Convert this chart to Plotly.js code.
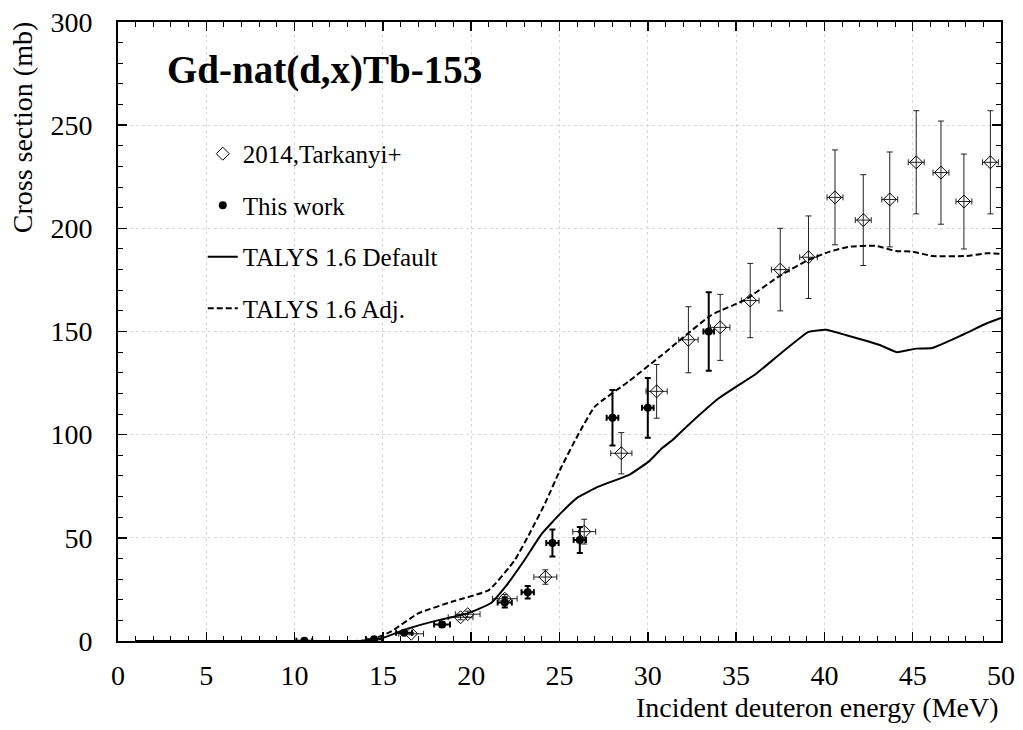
<!DOCTYPE html>
<html><head><meta charset="utf-8">
<script src="https://cdn.plot.ly/plotly-3.0.1.min.js"></script>
<style>body{margin:0;background:#fff}#chart{width:1023px;height:730px}</style>
</head><body><div id="chart"></div>
<script>
// Tarkanyi 2014 data
const tarkE   = [16.6, 19.4, 19.8, 21.9, 24.2, 26.4, 28.5, 30.5, 32.3, 34.1, 35.8, 37.5, 39.1, 40.6, 42.2, 43.7, 45.2, 46.6, 47.9, 49.4];
const tarkXS  = [3.5, 11.5, 13, 20.5, 31, 53, 91, 121, 146, 152, 165, 180, 186, 215, 204, 214, 232, 227, 213, 232];
const tarkDXS = [0.5, 1.2, 1.5, 2, 3.5, 6, 10, 13, 16, 16, 18, 20, 20, 23, 22, 23, 25, 25, 23, 25];
const tarkDE  = [0.7, 0.7, 0.7, 0.7, 0.65, 0.65, 0.6, 0.6, 0.55, 0.55, 0.5, 0.5, 0.5, 0.45, 0.45, 0.45, 0.45, 0.45, 0.45, 0.45];
// This work
const workE   = [10.55, 14.5, 16.2, 18.35, 21.9, 23.2, 24.6, 26.15, 28.0, 30.0, 33.45];
const workXS  = [0.1, 0.8, 4, 8, 18.7, 23.6, 47.5, 49, 108.2, 113, 150];
const workDXS = [0.1, 0.2, 0.6, 1.2, 2.5, 3, 6.5, 6.3, 13.5, 14.5, 19];
const workDE  = [0.45, 0.45, 0.45, 0.45, 0.4, 0.35, 0.35, 0.35, 0.33, 0.33, 0.3];
// TALYS 1.6 Default
const defE  = [1, 5, 10, 13, 14, 15, 16.4, 18.1, 19.8, 21.1, 22, 23, 24, 25.1, 26.05, 27.2, 29.0, 30.1, 30.8, 31.4, 32.3, 34.0, 35.6, 36.1, 39.1, 40.1, 41.2, 42.2, 43.1, 44.1, 45.2, 46.1, 47.8, 49.2, 50];
const defXS = [0, 0, 0, 0, 0.1, 1.5, 6, 10, 13.4, 18.3, 27, 39, 52, 62.2, 69.7, 74.8, 80.8, 87.3, 93.4, 97.4, 104.7, 117.5, 126.5, 129.3, 149.8, 150.8, 148.3, 145.9, 143.6, 140, 141.7, 142, 148.3, 154, 156.6];
// TALYS 1.6 Adj.
const adjE  = [1, 5, 10, 13, 14, 14.6, 15.45, 17.0, 18.9, 21.0, 22.45, 23.3, 24.2, 25.1, 26.1, 27.0, 28.9, 30.8, 33.6, 35.5, 37.4, 39.1, 40.3, 41.4, 42.9, 44.05, 45.0, 46.1, 48.0, 49.2, 50];
const adjXS = [0, 0, 0, 0, 0.2, 1.5, 4.5, 13.4, 19, 24.7, 39, 52, 67, 84.2, 100.7, 113.6, 125.7, 138.6, 158, 165.3, 176.6, 184.7, 188.7, 191.1, 191.5, 189.0, 188.7, 186.6, 186.6, 187.9, 187.6];

const FONT = 'Liberation Serif, Times New Roman, serif';

const traces = [
  {x: tarkE, y: tarkXS, name: '2014,Tarkanyi+', mode: 'markers', type: 'scatter', legendgroup: 'a',
   marker: {symbol: 'diamond-open', size: 10, color: '#000', line: {width: 1, color: '#000'}},
   error_y: {type: 'data', array: tarkDXS, color: '#222', thickness: 1, width: 3},
   error_x: {type: 'data', array: tarkDE, color: '#222', thickness: 1, width: 3}},
  {x: workE, y: workXS, name: 'This work', mode: 'markers', type: 'scatter', legendgroup: 'b',
   marker: {symbol: 'circle', size: 8, color: '#000'},
   error_y: {type: 'data', array: workDXS, color: '#000', thickness: 2, width: 3},
   error_x: {type: 'data', array: workDE, color: '#000', thickness: 2, width: 3}},
  {x: defE, y: defXS, name: 'TALYS 1.6 Default', mode: 'lines', type: 'scatter', legendgroup: 'c',
   line: {color: '#000', width: 2, shape: 'spline', smoothing: 0.4}},
  {x: adjE, y: adjXS, name: 'TALYS 1.6 Adj.', mode: 'lines', type: 'scatter', legendgroup: 'd',
   line: {color: '#000', width: 2, dash: '6px,3px', shape: 'spline', smoothing: 0.4}}
];

const axisCommon = {
  showline: true, linecolor: '#000', linewidth: 2, mirror: 'allticks',
  ticks: 'inside', ticklen: 9, tickcolor: '#000', tickwidth: 1.5,
  showgrid: true, gridcolor: '#d8d8d8', griddash: 'dot', gridwidth: 1,
  zeroline: false,
  tickfont: {family: FONT, size: 28, color: '#000'}
};

const layout = {
  width: 1023, height: 730,
  margin: {l: 118, r: 22, t: 22, b: 89},
  paper_bgcolor: '#fff', plot_bgcolor: '#fff',
  font: {family: FONT, color: '#000'},
  showlegend: true,
  legend: {x: 0.096, y: 0.824, xanchor: 'left', yanchor: 'top',
           font: {family: FONT, size: 25, color: '#000'},
           bgcolor: 'rgba(0,0,0,0)', borderwidth: 0,
           traceorder: 'grouped', tracegroupgap: 16, itemwidth: 30},
  xaxis: Object.assign({}, axisCommon, {range: [0, 50], dtick: 5, tick0: 0, ticklabelstandoff: 8,
           minor: {dtick: 1, ticks: 'inside', ticklen: 5, tickcolor: '#000', tickwidth: 1, showgrid: false}}),
  yaxis: Object.assign({}, axisCommon, {range: [0, 300], dtick: 50, tick0: 0, ticklabelstandoff: 18,
           minor: {dtick: 10, ticks: 'inside', ticklen: 5, tickcolor: '#000', tickwidth: 1, showgrid: false}}),
  annotations: [
    {text: '<b>Gd-nat(d,x)Tb-153</b>', xref: 'paper', yref: 'paper', x: 0.053, y: 0.922,
     xanchor: 'left', yanchor: 'middle', showarrow: false,
     font: {family: FONT, size: 39, color: '#000'}},
    {text: 'Incident deuteron energy (MeV)', xref: 'paper', yref: 'paper', x: 1.0, y: -0.108,
     xanchor: 'right', yanchor: 'middle', showarrow: false,
     font: {family: FONT, size: 28, color: '#000'}},
    {text: 'Cross section (mb)', xref: 'paper', yref: 'paper', x: -0.1087, y: 0.83,
     xanchor: 'center', yanchor: 'middle', showarrow: false, textangle: -90,
     font: {family: FONT, size: 28, color: '#000'}}
  ]
};

Plotly.newPlot('chart', traces, layout, {displayModeBar: false, staticPlot: true});
</script>
</body></html>
